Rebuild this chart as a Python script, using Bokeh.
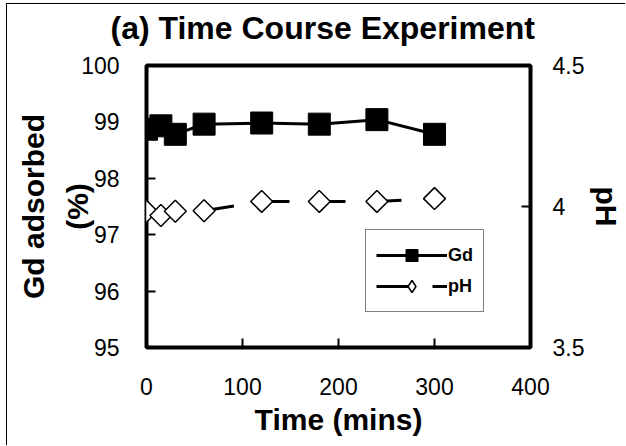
import numpy as np
from bokeh.plotting import figure
from bokeh.models import (Range1d, LinearAxis, FixedTicker, CustomJSTickFormatter, Legend, Title)
from bokeh.embed import file_html
from bokeh.resources import INLINE

# ---- data ----
time_min = [0, 15, 30, 60, 120, 180, 240, 300]
gd_adsorbed = [98.87, 98.93, 98.78, 98.96, 98.98, 98.96, 99.04, 98.78]
ph_values = [3.983, 3.968, 3.983, 3.985, 4.018, 4.018, 4.018, 4.028]

x_ticks = [0, 100, 200, 300, 400]
y_ticks = [95, 96, 97, 98, 99, 100]
ph_ticks = [3.5, 4, 4.5]

title_text = "(a) Time Course Experiment"
FONT = "Liberation Sans"

p = figure(width=619, height=442, output_backend="svg", toolbar_location=None, title=None,
           x_range=Range1d(0, 400), y_range=Range1d(95, 100),
           min_border_left=139, min_border_right=93, min_border_top=60, min_border_bottom=99,
           background_fill_color="white", border_fill_color="white")
p.styles = {"margin-left": "6px", "margin-top": "3px",
            "border-left": "1px solid black", "border-top": "1px solid black"}

p.extra_y_ranges = {"ph": Range1d(3.5, 4.5)}

p.grid.visible = False
p.outline_line_color = "black"
p.outline_line_width = 4
p.outline_line_alpha = 1.0

# gap between frame and title, then the title itself
spacer = Title(text=" ", text_font=FONT, text_font_size="9px", standoff=0)
p.add_layout(spacer, "above")
title = Title(text=title_text, text_font=FONT, text_font_size="32px", text_font_style="bold",
              text_color="black", align="left", offset=-36, vertical_align="top", standoff=11)
p.add_layout(title, "above")

def style_axis(ax, standoff):
    ax.axis_line_color = None
    ax.major_tick_in = 9
    ax.major_tick_out = 0
    ax.major_tick_line_width = 2
    ax.major_tick_line_color = "black"
    ax.minor_tick_line_color = None
    ax.major_label_text_font = FONT
    ax.major_label_text_font_size = "23px"
    ax.major_label_text_color = "black"
    ax.major_label_standoff = standoff
    ax.axis_label_text_font = FONT
    ax.axis_label_text_font_size = "30px"
    ax.axis_label_text_font_style = "bold"
    ax.axis_label_text_color = "black"

xa = p.xaxis[0]
xa.ticker = FixedTicker(ticks=x_ticks)
xa.axis_label = "Time (mins)"
style_axis(xa, 30)
xa.axis_label_standoff = 5

ya = p.yaxis[0]
ya.ticker = FixedTicker(ticks=y_ticks)
ya.axis_label = "Gd adsorbed\n(%)"
style_axis(ya, 27)
ya.axis_label_standoff = -16
ya.axis_label_text_line_height = 1.35

ra = LinearAxis(y_range_name="ph", ticker=FixedTicker(ticks=ph_ticks),
                formatter=CustomJSTickFormatter(code="return String(tick);"))
ra.axis_label = "pH"
style_axis(ra, 22)
ra.axis_label_standoff = 3
p.add_layout(ra, "right")

# series
gl = p.line(time_min, gd_adsorbed, line_color="black", line_width=3)
gs = p.scatter(time_min, gd_adsorbed, marker="square", size=22,
               fill_color="black", line_color="black", line_width=1)
pl = p.line(time_min, ph_values, y_range_name="ph", line_color="black",
            line_width=3, line_dash="33 23")
# narrow diamonds (used for the legend swatch), covered by the rotated squares
pd = p.scatter(time_min, ph_values, y_range_name="ph", marker="diamond",
               size=20, fill_color="white", line_color="black", line_width=1.5)
ps = p.scatter(time_min, ph_values, y_range_name="ph", marker="square", angle=np.pi / 4,
               size=15.5, fill_color="white", line_color="black", line_width=1.5)

legend = Legend(items=[("Gd", [gl, gs]), ("pH", [pl, pd])], location=(219, 35))
legend.label_text_font = FONT
legend.label_text_font_size = "18px"
legend.label_text_font_style = "bold"
legend.label_text_color = "black"
legend.glyph_width = 71
legend.glyph_height = 30
legend.label_height = 30
legend.label_standoff = 1
legend.spacing = 1
legend.padding = 10
legend.margin = 0
legend.border_line_color = "black"
legend.border_line_width = 1
legend.background_fill_color = "white"
legend.background_fill_alpha = 1.0
p.add_layout(legend, "center")

open("out.html", "w").write(file_html(p, INLINE))
